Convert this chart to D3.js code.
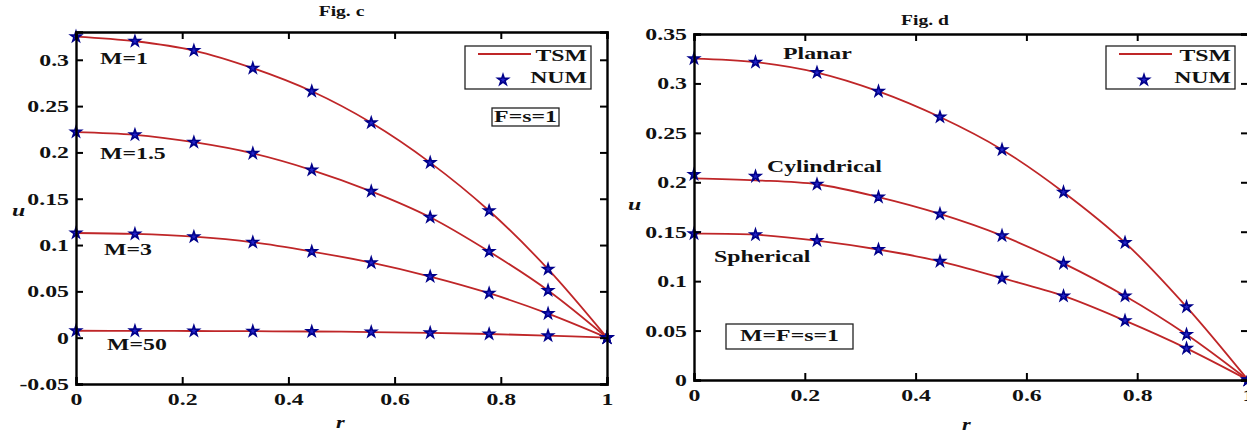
<!DOCTYPE html>
<html><head><meta charset="utf-8">
<script src="https://cdn.jsdelivr.net/npm/d3@7"></script>
<style>
html,body{margin:0;padding:0;background:#fff;}
svg{display:block;}
text{font-family:"Liberation Serif","Times New Roman",serif;font-weight:bold;fill:#111;}
</style></head>
<body>
<script>
// ---------- data ----------
const rValues = [0, 0.111, 0.222, 0.333, 0.444, 0.556, 0.667, 0.778, 0.889, 1];

// Fig. c (varying M)
const seriesC = ["M=1", "M=1.5", "M=3", "M=50"];
const tsmM1   = [0.325, 0.320, 0.310, 0.291, 0.266, 0.232, 0.189, 0.137, 0.074, 0];
const tsmM15  = [0.222, 0.219, 0.211, 0.199, 0.181, 0.158, 0.130, 0.093, 0.051, 0];
const tsmM3   = [0.113, 0.112, 0.109, 0.103, 0.093, 0.081, 0.066, 0.048, 0.026, 0];
const tsmM50  = [0.0075, 0.0074, 0.0072, 0.0070, 0.0067, 0.0061, 0.0052, 0.0040, 0.0022, 0];
const numM1   = [0.325, 0.320, 0.310, 0.291, 0.266, 0.232, 0.189, 0.137, 0.074, 0];
const numM15  = [0.222, 0.219, 0.211, 0.199, 0.181, 0.158, 0.130, 0.093, 0.051, 0];
const numM3   = [0.113, 0.112, 0.109, 0.103, 0.093, 0.081, 0.066, 0.048, 0.026, 0];
const numM50  = [0.0075, 0.0074, 0.0072, 0.0070, 0.0067, 0.0061, 0.0052, 0.0040, 0.0022, 0];

// Fig. d (geometry)
const seriesD = ["Planar", "Cylindrical", "Spherical"];
const tsmPlanar = [0.325, 0.3215, 0.311, 0.292, 0.266, 0.233, 0.190, 0.139, 0.074, 0];
const tsmCyl    = [0.204, 0.202, 0.198, 0.185, 0.168, 0.146, 0.118, 0.085, 0.046, 0];
const tsmSph    = [0.148, 0.147, 0.141, 0.132, 0.120, 0.103, 0.085, 0.060, 0.032, 0];
const numPlanar = [0.325, 0.3215, 0.311, 0.292, 0.266, 0.233, 0.190, 0.139, 0.074, 0];
const numCyl    = [0.208, 0.206, 0.198, 0.185, 0.168, 0.146, 0.118, 0.085, 0.046, 0];
const numSph    = [0.148, 0.147, 0.141, 0.132, 0.120, 0.103, 0.085, 0.060, 0.032, 0];

const xTicks  = [0, 0.2, 0.4, 0.6, 0.8, 1];
const yTicksC = [-0.05, 0, 0.05, 0.1, 0.15, 0.2, 0.25, 0.3];
const yTicksD = [0, 0.05, 0.1, 0.15, 0.2, 0.25, 0.3, 0.35];
const legendLabels = ["TSM", "NUM"];

// ---------- drawing ----------
const W = 1247, H = 432;
const S = 1.4; // horizontal stretch of the original figure's lettering
const svg = d3.select("body").append("svg").attr("width", W).attr("height", H);

const lineColor = "#bf2628";
const starFill = "#2424c8";
const starStroke = "#00008a";
const star = d3.symbol().type(d3.symbolStar).size(34);

function fmt(v){ return String(+v.toFixed(2)).replace(/^(-?)0\./,"$10."); }

function txt(g, x, y, s, size, anchor, italic){
  return g.append("text")
    .attr("transform",`translate(${x},${y}) scale(${S},1)`)
    .attr("text-anchor", anchor || "start")
    .attr("dominant-baseline","middle")
    .style("font-size", size + "px")
    .style("font-style", italic ? "italic" : "normal")
    .text(s);
}

function panel(cfg){
  const g = svg.append("g");
  const x = d3.scaleLinear().domain([0,1]).range([cfg.x0, cfg.x1]);
  const y = d3.scaleLinear().domain(cfg.yDom).range([cfg.y1, cfg.y0]);

  const line = d3.line().x((d,i)=>x(rValues[i])).y(d=>y(d)).curve(d3.curveCatmullRom.alpha(0.5));
  cfg.tsm.forEach(s=>{
    g.append("path").datum(s).attr("d", line)
      .attr("fill","none").attr("stroke", lineColor).attr("stroke-width", 1.8);
  });
  cfg.num.forEach(s=>{
    g.selectAll(null).data(s).enter().append("path")
      .attr("d", star)
      .attr("transform",(d,i)=>`translate(${x(rValues[i])},${y(d)})`)
      .attr("fill", starFill).attr("stroke", starStroke).attr("stroke-width", 1.6);
  });

  // axes (box with inward ticks)
  const tl = 7;
  const axB = d3.axisBottom(x).tickValues(xTicks).tickSize(-tl).tickPadding(9).tickFormat(d=>fmt(d));
  const axT = d3.axisTop(x).tickValues(xTicks).tickSize(-tl).tickFormat("");
  const axL = d3.axisLeft(y).tickValues(cfg.yTicks).tickSize(-tl).tickPadding(7).tickFormat(d=>fmt(d));
  const axR = d3.axisRight(y).tickValues(cfg.yTicks).tickSize(-tl).tickFormat("");
  const style = sel=>{
    sel.selectAll("path.domain").attr("stroke","#000").attr("stroke-width",2.4);
    sel.selectAll(".tick line").attr("stroke","#000").attr("stroke-width",2);
    sel.selectAll(".tick text")
      .style("font-size","17px").style("font-family","'Liberation Serif', serif")
      .style("font-weight","bold").style("fill","#111");
  };
  g.append("g").attr("transform",`translate(0,${cfg.y1})`).call(axB).call(style)
    .selectAll(".tick text").attr("transform",`scale(${S},1)`);
  g.append("g").attr("transform",`translate(0,${cfg.y0})`).call(axT).call(style);
  g.append("g").attr("transform",`translate(${cfg.x0},0)`).call(axL).call(style)
    .selectAll(".tick text").attr("x", -7 / S).attr("transform",`scale(${S},1)`);
  g.append("g").attr("transform",`translate(${cfg.x1},0)`).call(axR).call(style);

  // title & axis labels
  txt(g, (cfg.x0+cfg.x1)/2 + cfg.titleDx, cfg.titleY, cfg.title, 14, "middle");
  txt(g, cfg.uX, cfg.uY, "u", 17, "start", true);
  txt(g, cfg.rX, cfg.rY, "r", 16, "start", true);

  // curve labels
  cfg.labels.forEach(l=> txt(g, l.x, l.y, l.t, 17, "start"));

  // legend
  const lg = cfg.legend;
  g.append("rect").attr("x",lg.x).attr("y",lg.y).attr("width",lg.w).attr("height",lg.h)
    .attr("fill","#fff").attr("stroke","#222").attr("stroke-width",1.3);
  g.append("line").attr("x1",lg.x+13).attr("x2",lg.x+66).attr("y1",lg.y+8).attr("y2",lg.y+8)
    .attr("stroke",lineColor).attr("stroke-width",1.8);
  g.append("path").attr("d",star).attr("transform",`translate(${lg.x+38},${lg.y+34})`)
    .attr("fill",starFill).attr("stroke",starStroke).attr("stroke-width",1.6);
  txt(g, lg.x+lg.w-4, lg.y+11, legendLabels[0], 17, "end");
  txt(g, lg.x+lg.w-4, lg.y+33, legendLabels[1], 17, "end");

  // parameter box
  const pb = cfg.pbox;
  g.append("rect").attr("x",pb.x).attr("y",pb.y).attr("width",pb.w).attr("height",pb.h)
    .attr("fill","#fff").attr("stroke","#222").attr("stroke-width",1.3);
  txt(g, pb.x+pb.w/2, pb.y+pb.h/2+1, pb.t, 17, "middle");
}

panel({
  x0:76, x1:607, y0:32, y1:384, yDom:[-0.05,0.33], yTicks:yTicksC,
  tsm:[tsmM1,tsmM15,tsmM3,tsmM50], num:[numM1,numM15,numM3,numM50],
  title:"Fig. c", titleY:13, titleDx:0,
  uX:12, uY:212, rX:336, rY:424,
  labels:[
    {t:seriesC[0], x:100, y:60},
    {t:seriesC[1], x:100, y:155},
    {t:seriesC[2], x:104, y:251},
    {t:seriesC[3], x:107, y:346}
  ],
  legend:{x:465, y:46, w:126, h:43},
  pbox:{x:492, y:108, w:67, h:18, t:"F=s=1"}
});

panel({
  x0:694, x1:1248, y0:34, y1:380, yDom:[0,0.35], yTicks:yTicksD,
  tsm:[tsmPlanar,tsmCyl,tsmSph], num:[numPlanar,numCyl,numSph],
  title:"Fig. d", titleY:22, titleDx:-46,
  uX:628, uY:206, rX:962, rY:426,
  labels:[
    {t:seriesD[0], x:783, y:55},
    {t:seriesD[1], x:767, y:168},
    {t:seriesD[2], x:714, y:258}
  ],
  legend:{x:1106, y:46, w:129, h:43},
  pbox:{x:726, y:324, w:127, h:25, t:"M=F=s=1"}
});
</script>
</body></html>
